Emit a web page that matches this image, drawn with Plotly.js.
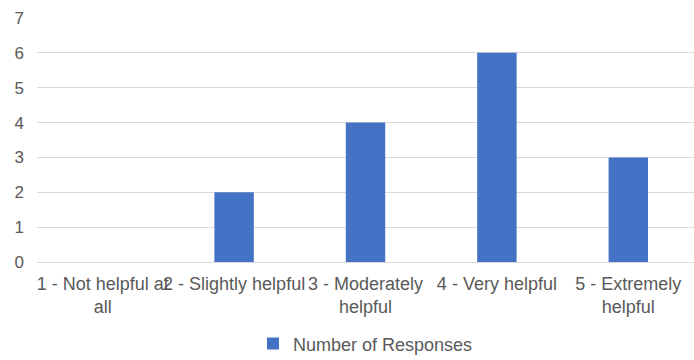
<!DOCTYPE html>
<html>
<head>
<meta charset="utf-8">
<script src="https://cdn.plot.ly/plotly-3.0.1.min.js"></script>
<style>
  html, body { margin: 0; padding: 0; background: #ffffff; }
  #chart { width: 694px; height: 360px; }
</style>
</head>
<body>
<div id="chart"></div>
<script>
// Survey ratings and how many respondents chose each one
const categories = [
  '1 - Not helpful at<br>all',
  '2 - Slightly helpful',
  '3 - Moderately<br>helpful',
  '4 - Very helpful',
  '5 - Extremely<br>helpful'
];
const responses = [0, 2, 4, 6, 3];
const seriesName = 'Number of Responses';
const yTicks = [0, 1, 2, 3, 4, 5, 6, 7];

const textColor = '#595959';
const fontFamily = '"Liberation Sans", Arial, sans-serif';

const trace = {
  type: 'bar',
  x: categories,
  y: responses,
  name: seriesName,
  marker: { color: '#4472C4' },
  hoverinfo: 'x+y'
};

const layout = {
  width: 694,
  height: 360,
  margin: { l: 37, r: 0, t: 18, b: 98 },
  paper_bgcolor: '#ffffff',
  plot_bgcolor: '#ffffff',
  font: { family: fontFamily, size: 18, color: textColor },
  bargap: 0.7,
  showlegend: true,
  legend: {
    orientation: 'h',
    x: 0.5,
    xanchor: 'center',
    yref: 'container',
    y: 0.045,
    yanchor: 'middle',
    font: { family: fontFamily, size: 18, color: textColor }
  },
  xaxis: {
    type: 'category',
    showgrid: false,
    showline: false,
    zeroline: false,
    ticks: '',
    tickangle: 0,
    ticklabelstandoff: 9,
    tickfont: { family: fontFamily, size: 18, color: textColor }
  },
  yaxis: {
    range: [0, 7],
    tickvals: yTicks,
    ticktext: yTicks.map(String),
    showgrid: true,
    gridcolor: '#d9d9d9',
    gridwidth: 1,
    zeroline: true,
    zerolinecolor: '#d9d9d9',
    zerolinewidth: 1,
    showline: false,
    ticks: '',
    ticklabelstandoff: 12,
    tickfont: { family: fontFamily, size: 17, color: textColor }
  }
};

Plotly.newPlot('chart', [trace], layout, { displayModeBar: false, staticPlot: true });
</script>
</body>
</html>
